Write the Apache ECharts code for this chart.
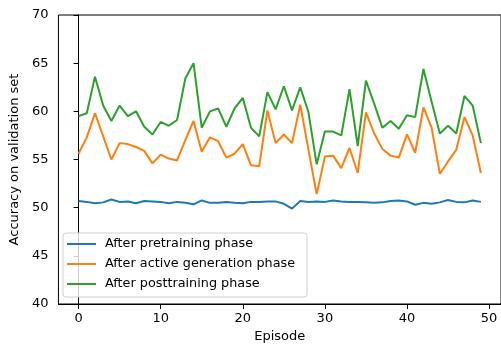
<!DOCTYPE html>
<html>
<head>
<meta charset="utf-8">
<script src="https://cdn.jsdelivr.net/npm/echarts@6/dist/echarts.min.js"></script>
<style>
  html, body { margin: 0; padding: 0; background: #fff; }
  #chart { width: 501px; height: 349px; }
</style>
</head>
<body>
<div id="chart"></div>
<script>
// series names
const seriesNames = ['After pretraining phase', 'After active generation phase', 'After posttraining phase']
const seriesColors = ['#1f77b4', '#ff7f0e', '#2ca02c']

// episodes 0..49
const episodes = [
  0, 1, 2, 3, 4, 5, 6, 7, 8, 9,
  10, 11, 12, 13, 14, 15, 16, 17, 18, 19,
  20, 21, 22, 23, 24, 25, 26, 27, 28, 29,
  30, 31, 32, 33, 34, 35, 36, 37, 38, 39,
  40, 41, 42, 43, 44, 45, 46, 47, 48, 49
]

const pretrain = [
  50.7, 50.6, 50.45, 50.55, 50.85, 50.6, 50.65, 50.45, 50.7, 50.65,
  50.6, 50.45, 50.6, 50.5, 50.35, 50.75, 50.5, 50.5, 50.6, 50.5,
  50.45, 50.6, 50.6, 50.65, 50.65, 50.4, 49.9, 50.7, 50.6, 50.65,
  50.6, 50.75, 50.65, 50.6, 50.6, 50.55, 50.5, 50.55, 50.7, 50.75,
  50.65, 50.3, 50.5, 50.4, 50.55, 50.8, 50.6, 50.55, 50.75, 50.6
]

const activeGen = [
  55.6, 57.3, 59.8, 57.4, 55.0, 56.7, 56.6, 56.3, 55.9, 54.6,
  55.5, 55.1, 54.9, 57.0, 59.0, 55.8, 57.3, 56.9, 55.2, 55.6,
  56.6, 54.4, 54.3, 60.1, 56.7, 57.6, 56.7, 60.7, 56.0, 51.4,
  55.3, 55.4, 54.1, 56.2, 53.6, 59.9, 57.7, 56.1, 55.4, 55.2,
  57.6, 55.7, 60.4, 58.3, 53.5, 54.8, 56.0, 59.4, 57.5, 53.6
]

const posttrain = [
  59.5, 59.8, 63.6, 60.6, 59.0, 60.6, 59.5, 60.0, 58.4, 57.6,
  58.9, 58.5, 59.1, 63.4, 65.0, 58.3, 60.0, 60.3, 58.4, 60.3,
  61.4, 58.3, 57.4, 62.0, 60.2, 62.6, 60.1, 62.5, 59.9, 54.5,
  57.9, 57.9, 57.5, 62.3, 56.4, 63.2, 60.8, 58.3, 59.0, 58.2,
  59.6, 59.4, 64.4, 61.0, 57.7, 58.5, 57.7, 61.6, 60.6, 56.7
]

// tick labels
const xTicks = [0, 10, 20, 30, 40, 50]
const yTicks = [40, 45, 50, 55, 60, 65, 70]

const allSeries = [pretrain, activeGen, posttrain]

const chart = echarts.init(document.getElementById('chart'))

const font = 'DejaVu Sans'

const option = {
  animation: false,
  backgroundColor: '#fff',
  grid: {
    left: 56,
    top: 15,
    width: 449,
    height: 289,
    show: true,
    borderColor: '#000',
    borderWidth: 1
  },
  legend: {
    orient: 'vertical',
    left: 63,
    top: 233,
    data: seriesNames,
    icon: 'rect',
    itemWidth: 29,
    itemHeight: 2,
    itemGap: 6,
    padding: [4, 12, 6, 4],
    borderColor: '#d0d0d0',
    borderWidth: 1,
    borderRadius: 3,
    backgroundColor: 'rgba(255,255,255,0.8)',
    textStyle: { fontFamily: font, fontSize: 12.8, color: '#000', lineHeight: 14, padding: [0, 0, 0, 4] }
  },
  xAxis: {
    type: 'value',
    min: -2.45,
    max: 51.45,
    name: 'Episode',
    nameLocation: 'middle',
    nameGap: 26,
    nameTextStyle: { fontFamily: font, fontSize: 13, color: '#000' },
    axisLine: { show: true, onZero: false, lineStyle: { color: '#000', width: 1 } },
    axisTick: { show: true, length: 5, customValues: xTicks, lineStyle: { color: '#000' } },
    axisLabel: { customValues: xTicks, margin: 8, fontFamily: font, fontSize: 13, color: '#000' },
    splitLine: { show: false }
  },
  yAxis: {
    type: 'value',
    min: yTicks[0],
    max: yTicks[yTicks.length - 1],
    interval: 5,
    name: 'Accuracy on validation set',
    nameLocation: 'middle',
    nameGap: 34,
    nameTextStyle: { fontFamily: font, fontSize: 13, color: '#000' },
    axisLine: { show: true, lineStyle: { color: '#000', width: 1 } },
    axisTick: { show: true, length: 5, lineStyle: { color: '#000' } },
    axisLabel: { margin: 10, fontFamily: font, fontSize: 13, color: '#000' },
    splitLine: { show: false }
  },
  series: allSeries.map((vals, idx) => ({
    name: seriesNames[idx],
    type: 'line',
    data: episodes.map((e, i) => [e, vals[i]]),
    showSymbol: false,
    symbol: 'none',
    color: seriesColors[idx],
    lineStyle: { color: seriesColors[idx], width: 2 }
  }))
}

chart.setOption(option)
</script>
</body>
</html>
